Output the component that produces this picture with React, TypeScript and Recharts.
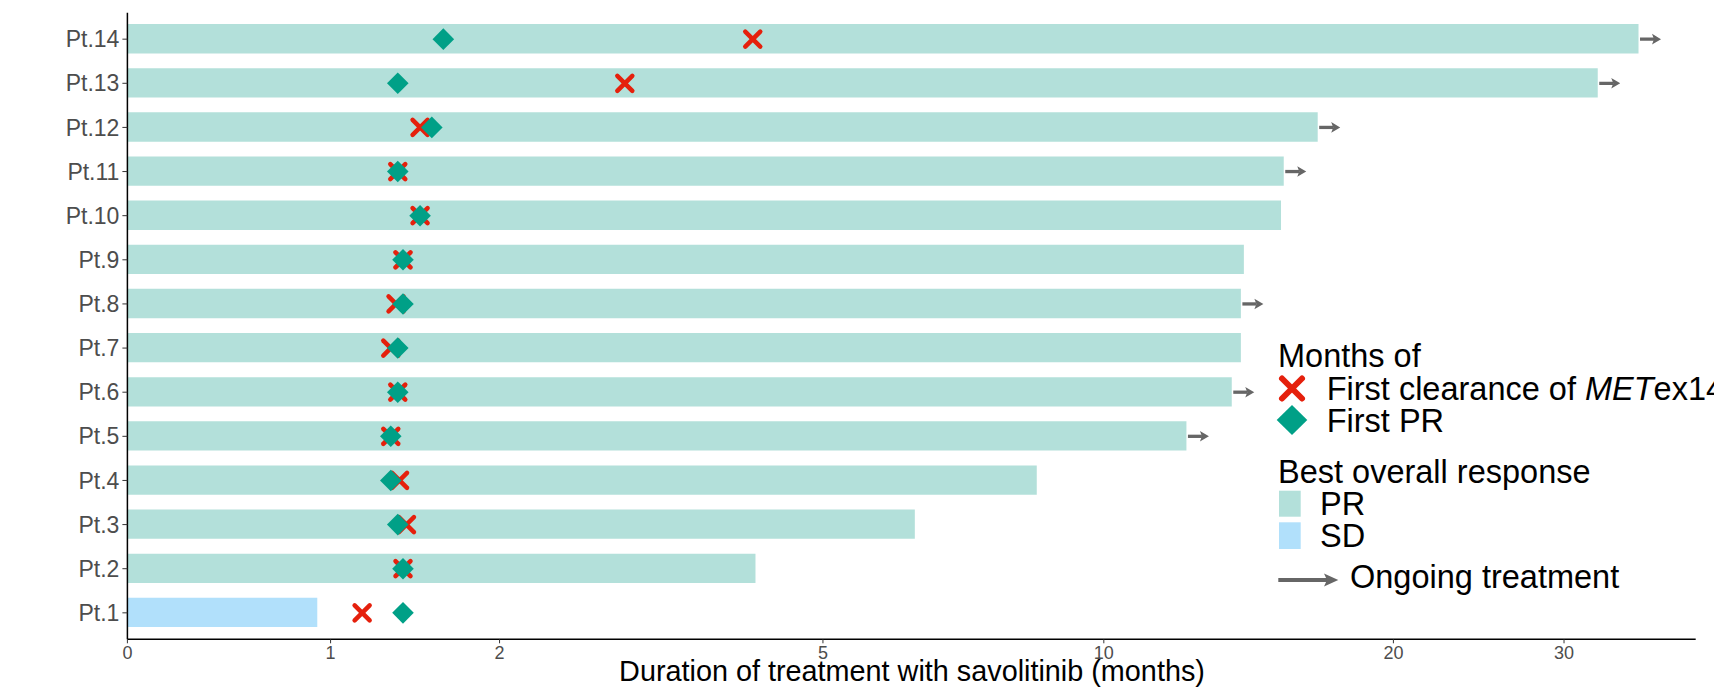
import React from "react";
import {
  ComposedChart,
  Bar,
  Cell,
  Scatter,
  XAxis,
  YAxis,
} from "recharts";

// values (months)
const PATIENTS = ["Pt.1", "Pt.2", "Pt.3", "Pt.4", "Pt.5", "Pt.6", "Pt.7", "Pt.8", "Pt.9", "Pt.10", "Pt.11", "Pt.12", "Pt.13", "Pt.14"];
const DURATION = [0.93, 4.2, 6.3, 8.5, 12.2, 13.6, 13.9, 13.9, 14.0, 15.3, 15.4, 16.7, 32.5, 35.8];
const CLEARANCE = [1.17, 1.4, 1.42, 1.38, 1.33, 1.37, 1.33, 1.36, 1.4, 1.5, 1.37, 1.5, 2.94, 4.17];
const FIRST_PR = [1.4, 1.4, 1.37, 1.33, 1.33, 1.37, 1.37, 1.4, 1.4, 1.5, 1.37, 1.57, 1.37, 1.64];
const RESPONSE = ["SD", "PR", "PR", "PR", "PR", "PR", "PR", "PR", "PR", "PR", "PR", "PR", "PR", "PR"];
const ONGOING = [false, false, false, false, true, true, false, true, false, false, true, true, true, true];
const TICK_MONTHS = [0, 1, 2, 5, 10, 20, 30];
const TICK_LABELS = ["0", "1", "2", "5", "10", "20", "30"];
const X_MAX = 41;

const RESPONSE_COLORS: Record<string, string> = {
  PR: "#B3E0DA",
  SD: "#B1E0FB",
};
const RED = "#E5200C";
const TEAL = "#00A087";
const ARROW = "#666666";
const FONT = "'Liberation Sans', Arial, Helvetica, sans-serif";

// pseudo-log axis (asinh(x / 2)), like ggplot's pseudo_log_trans
const toT = (m: number) => Math.asinh(m / 2);

const data = PATIENTS.map((name, i) => ({
  name,
  durT: toT(DURATION[i]),
  clrT: toT(CLEARANCE[i]),
  prT: toT(FIRST_PR[i]),
  arrowT: toT(DURATION[i]),
  response: RESPONSE[i],
  ongoing: ONGOING[i],
}));

const CrossShape = (props: any) => {
  const { cx, cy } = props;
  if (cx == null || cy == null) return <g />;
  const r = 7.5;
  return (
    <g stroke={RED} strokeWidth={4.5} strokeLinecap="round">
      <line x1={cx - r} y1={cy - r} x2={cx + r} y2={cy + r} />
      <line x1={cx - r} y1={cy + r} x2={cx + r} y2={cy - r} />
    </g>
  );
};

const DiamondShape = (props: any) => {
  const { cx, cy } = props;
  if (cx == null || cy == null) return <g />;
  const r = 10.8;
  return <polygon points={`${cx},${cy - r} ${cx + r},${cy} ${cx},${cy + r} ${cx - r},${cy}`} fill={TEAL} />;
};

const ArrowShape = (props: any) => {
  const { cx, cy, payload } = props;
  if (!payload || !payload.ongoing || cx == null) return <g />;
  const x0 = cx + 1.5;
  return (
    <g>
      <line x1={x0} y1={cy} x2={x0 + 14} y2={cy} stroke={ARROW} strokeWidth={3.3} />
      <polygon
        points={`${x0 + 12},${cy - 5.3} ${x0 + 21},${cy} ${x0 + 12},${cy + 5.3} ${x0 + 14},${cy}`}
        fill={ARROW}
      />
    </g>
  );
};

function Overlay() {
  const legendFont = 32.5;
  return (
    <svg
      width={1714}
      height={688}
      style={{ position: "absolute", left: 0, top: 0, pointerEvents: "none" }}
      fontFamily={FONT}
    >
      <text x={912} y={681} textAnchor="middle" fontSize={28.8} fill="#000">
        Duration of treatment with savolitinib (months)
      </text>

      <text x={1278} y={366.7} fontSize={legendFont} fill="#000">Months of</text>
      <g stroke={RED} strokeWidth={6} strokeLinecap="round">
        <line x1={1282} y1={378.5} x2={1302} y2={398.5} />
        <line x1={1282} y1={398.5} x2={1302} y2={378.5} />
      </g>
      <text x={1326.7} y={400} fontSize={legendFont} fill="#000">
        First clearance of <tspan fontStyle="italic">MET</tspan>ex14
      </text>
      <polygon points="1292,405 1307.3,420 1292,435 1276.7,420" fill={TEAL} />
      <text x={1326.7} y={431.7} fontSize={legendFont} fill="#000">First PR</text>

      <text x={1278} y={483.3} fontSize={legendFont} fill="#000">Best overall response</text>
      <rect x={1279} y={490.7} width={21.7} height={26} fill={RESPONSE_COLORS.PR} />
      <text x={1320} y={515} fontSize={legendFont} fill="#000">PR</text>
      <rect x={1279} y={522.3} width={21.7} height={26.7} fill={RESPONSE_COLORS.SD} />
      <text x={1320} y={546.7} fontSize={legendFont} fill="#000">SD</text>

      <line x1={1278.3} y1={580} x2={1327} y2={580} stroke={ARROW} strokeWidth={4} />
      <polygon points="1324,573.5 1338.3,580 1324,586.5 1327,580" fill={ARROW} />
      <text x={1350} y={588} fontSize={legendFont} fill="#000">Ongoing treatment</text>
    </svg>
  );
}

export default function App() {
  return (
    <div
      style={{
        position: "absolute",
        left: 0,
        top: 0,
        width: 1714,
        height: 688,
        overflow: "hidden",
        background: "#fff",
        fontFamily: FONT,
      }}
    >
      <ComposedChart
        layout="vertical"
        width={1714}
        height={688}
        data={data}
        margin={{ top: 12.7, right: 18.3, bottom: 0, left: 0 }}
      >
        <XAxis
          type="number"
          domain={[0, toT(X_MAX)]}
          allowDataOverflow
          ticks={TICK_MONTHS.map(toT)}
          tickFormatter={(_v: number, i: number) => TICK_LABELS[i]}
          height={48.7}
          tickSize={4}
          tickMargin={3}
          tick={{ fill: "#4D4D4D", fontSize: 18 }}
          tickLine={{ stroke: "#333" }}
          axisLine={{ stroke: "#000", strokeWidth: 1.4 }}
        />
        <YAxis
          type="category"
          dataKey="name"
          reversed
          width={127.4}
          padding={{ top: 4.4, bottom: 4.4 }}
          tickSize={5}
          tickMargin={3}
          tick={{ fill: "#4D4D4D", fontSize: 23 }}
          tickLine={{ stroke: "#333" }}
          axisLine={{ stroke: "#000", strokeWidth: 1.5 }}
        />
        <Bar dataKey="durT" barSize={29.3} isAnimationActive={false}>
          {data.map((d) => (
            <Cell key={d.name} fill={RESPONSE_COLORS[d.response]} />
          ))}
        </Bar>
        <Scatter dataKey="arrowT" shape={ArrowShape} isAnimationActive={false} />
        <Scatter dataKey="clrT" shape={CrossShape} isAnimationActive={false} />
        <Scatter dataKey="prT" shape={DiamondShape} isAnimationActive={false} />
      </ComposedChart>
      <Overlay />
    </div>
  );
}
